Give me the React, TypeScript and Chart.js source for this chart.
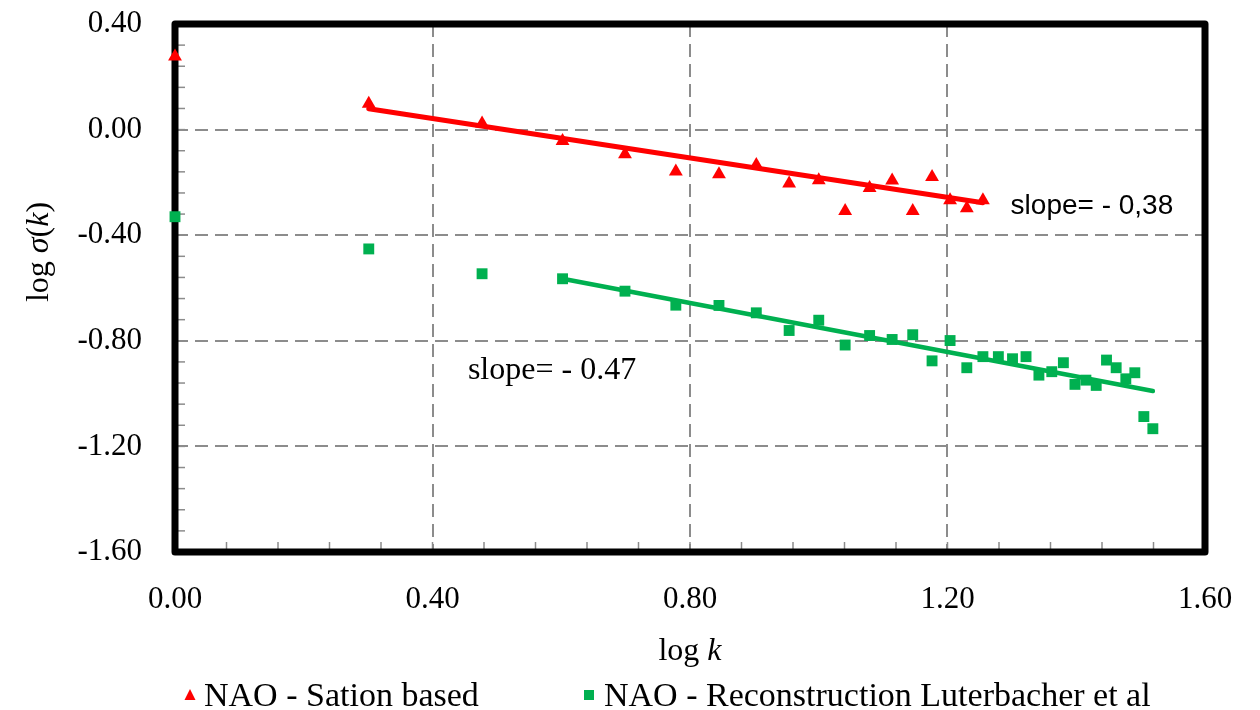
import React, { useEffect, useRef } from "react";
import { Chart, registerables } from "chart.js";

Chart.register(...registerables);

// ---- data (log k, log sigma(k)) ----
const stationX = [0, 0.301, 0.477, 0.602, 0.699, 0.778, 0.845, 0.903, 0.954, 1.0, 1.041, 1.079, 1.114, 1.146, 1.176, 1.204, 1.23, 1.255];
const stationY = [0.277, 0.098, 0.023, -0.043, -0.093, -0.159, -0.169, -0.134, -0.204, -0.192, -0.308, -0.221, -0.193, -0.308, -0.18, -0.268, -0.298, -0.268];

const reconX = [0, 0.301, 0.477, 0.602, 0.699, 0.778, 0.845, 0.903, 0.954, 1.0, 1.041, 1.079, 1.114, 1.146, 1.176, 1.204, 1.23, 1.255, 1.279, 1.301, 1.322, 1.342, 1.362, 1.38, 1.398, 1.415, 1.431, 1.447, 1.462, 1.477, 1.491, 1.505, 1.519];
const reconY = [-0.33, -0.452, -0.546, -0.565, -0.612, -0.665, -0.666, -0.694, -0.761, -0.722, -0.816, -0.78, -0.795, -0.777, -0.876, -0.799, -0.902, -0.86, -0.86, -0.868, -0.86, -0.93, -0.917, -0.883, -0.965, -0.949, -0.969, -0.873, -0.902, -0.944, -0.921, -1.087, -1.133];

const stationFitX = [0.301, 1.255];
const stationFitY = [0.079, -0.277];
const reconFitX = [0.602, 1.519];
const reconFitY = [-0.565, -0.99];

const xRange = [0, 1.6];
const yRange = [-1.6, 0.4];
const majorStep = 0.4;
const minorStep = 0.08;

const seriesLabels = ["NAO - Sation based", "NAO - Reconstruction Luterbacher et al"];
const slopeLabels = ["slope= - 0,38", "slope= - 0.47"];
const slopeLabelPos = [
  [1.298, -0.318],
  [0.455, -0.946],
];

const RED = "#FF0000";
const GREEN = "#00B050";
const SERIF = '"Liberation Serif", "Times New Roman", serif';
const SANS = '"Liberation Sans", Arial, sans-serif';

const toPts = (xs: number[], ys: number[]) => xs.map((x, i) => ({ x, y: ys[i] }));
const fmt = (v: number) => (Math.abs(v) < 1e-9 ? 0 : v).toFixed(2);

type Part = { t: string; i?: boolean };
function drawRich(ctx: CanvasRenderingContext2D, parts: Part[], x: number, y: number, size: number) {
  let total = 0;
  const widths = parts.map((p) => {
    ctx.font = `${p.i ? "italic " : ""}${size}px ${SERIF}`;
    const w = ctx.measureText(p.t).width;
    total += w;
    return w;
  });
  let cx = x - total / 2;
  parts.forEach((p, k) => {
    ctx.font = `${p.i ? "italic " : ""}${size}px ${SERIF}`;
    ctx.fillText(p.t, cx, y);
    cx += widths[k];
  });
}

const framePlugin = {
  id: "frameAndMinor",
  beforeDatasetsDraw(chart: any) {
    const { ctx, chartArea: a, scales } = chart;
    const xs = scales.x;
    const ys = scales.y;
    ctx.save();
    ctx.strokeStyle = "#8c8c8c";
    ctx.lineWidth = 1.5;
    const ny = Math.round((yRange[1] - yRange[0]) / minorStep);
    for (let i = 0; i <= ny; i++) {
      const py = ys.getPixelForValue(yRange[0] + i * minorStep);
      ctx.beginPath();
      ctx.moveTo(a.left, py);
      ctx.lineTo(a.left + 10, py);
      ctx.stroke();
    }
    const nx = Math.round((xRange[1] - xRange[0]) / minorStep);
    for (let i = 0; i <= nx; i++) {
      const px = xs.getPixelForValue(xRange[0] + i * minorStep);
      ctx.beginPath();
      ctx.moveTo(px, a.bottom);
      ctx.lineTo(px, a.bottom - 10);
      ctx.stroke();
    }
    ctx.strokeStyle = "#000";
    ctx.lineWidth = 7;
    ctx.lineJoin = "round";
    ctx.strokeRect(a.left, a.top, a.right - a.left, a.bottom - a.top);
    ctx.restore();
  },
  afterDraw(chart: any) {
    const { ctx, chartArea: a, scales } = chart;
    const xs = scales.x;
    const ys = scales.y;
    ctx.save();
    ctx.fillStyle = "#000";
    ctx.textBaseline = "alphabetic";
    ctx.textAlign = "left";

    // slope annotations
    ctx.font = `28px ${SANS}`;
    ctx.fillText(slopeLabels[0], xs.getPixelForValue(slopeLabelPos[0][0]), ys.getPixelForValue(slopeLabelPos[0][1]));
    ctx.font = `32px ${SERIF}`;
    ctx.fillText(slopeLabels[1], xs.getPixelForValue(slopeLabelPos[1][0]), ys.getPixelForValue(slopeLabelPos[1][1]));

    // x title
    drawRich(ctx, [{ t: "log " }, { t: "k", i: true }], (a.left + a.right) / 2, 660, 32);

    // y title
    ctx.save();
    ctx.translate(48, 252);
    ctx.rotate(-Math.PI / 2);
    drawRich(ctx, [{ t: "log " }, { t: "σ", i: true }, { t: "(" }, { t: "k", i: true }, { t: ")" }], 0, 0, 32);
    ctx.restore();

    // legend
    const ly = 695;
    ctx.fillStyle = RED;
    ctx.beginPath();
    ctx.moveTo(190, ly - 6);
    ctx.lineTo(195.5, ly + 5);
    ctx.lineTo(184.5, ly + 5);
    ctx.closePath();
    ctx.fill();
    ctx.fillStyle = GREEN;
    ctx.fillRect(584, ly - 5, 10, 10);
    ctx.fillStyle = "#000";
    ctx.font = `34px ${SERIF}`;
    ctx.fillText(seriesLabels[0], 204, 706);
    ctx.fillText(seriesLabels[1], 604, 706);
    ctx.restore();
  },
};

export default function App() {
  const ref = useRef<HTMLCanvasElement>(null);
  useEffect(() => {
    const chart = new Chart(ref.current as HTMLCanvasElement, {
      type: "scatter",
      data: {
        datasets: [
          {
            label: seriesLabels[0],
            data: toPts(stationX, stationY),
            pointStyle: "triangle",
            pointRadius: 8,
            backgroundColor: RED,
            borderColor: RED,
            borderWidth: 0,
            clip: false,
          },
          {
            label: seriesLabels[1],
            data: toPts(reconX, reconY),
            pointStyle: "rect",
            pointRadius: 7.7,
            backgroundColor: GREEN,
            borderColor: GREEN,
            borderWidth: 0,
            clip: false,
          },
          {
            label: "fit1",
            data: toPts(stationFitX, stationFitY),
            showLine: true,
            pointRadius: 0,
            borderColor: RED,
            borderWidth: 5,
            borderCapStyle: "round",
          },
          {
            label: "fit2",
            data: toPts(reconFitX, reconFitY),
            showLine: true,
            pointRadius: 0,
            borderColor: GREEN,
            borderWidth: 4.5,
            borderCapStyle: "round",
          },
        ],
      },
      options: {
        responsive: false,
        animation: false,
        layout: { autoPadding: false, padding: { top: 24, right: 55, left: 0, bottom: 0 } },
        plugins: { legend: { display: false }, tooltip: { enabled: false }, title: { display: false } },
        scales: {
          x: {
            type: "linear",
            min: xRange[0],
            max: xRange[1],
            afterFit: (s: any) => {
              s.height = 158;
              s.paddingLeft = 0;
              s.paddingRight = 0;
              s.paddingTop = 0;
              s.paddingBottom = 0;
            },
            ticks: {
              stepSize: majorStep,
              callback: (v: any) => fmt(Number(v)),
              font: { family: SERIF, size: 31 },
              color: "#000",
              padding: 29,
              maxRotation: 0,
              autoSkip: false,
            },
            grid: { color: "#8c8c8c", lineWidth: 2, drawTicks: false },
            border: { display: false, dash: [13, 7] },
          },
          y: {
            type: "linear",
            min: yRange[0],
            max: yRange[1],
            afterFit: (s: any) => {
              s.width = 175;
              s.paddingTop = 0;
              s.paddingBottom = 0;
              s.paddingLeft = 0;
              s.paddingRight = 0;
            },
            ticks: {
              stepSize: majorStep,
              callback: (v: any) => fmt(Number(v)),
              font: { family: SERIF, size: 31 },
              color: "#000",
              padding: 33,
              autoSkip: false,
            },
            grid: { color: "#8c8c8c", lineWidth: 2, drawTicks: false },
            border: { display: false, dash: [13, 7] },
          },
        },
      },
      plugins: [framePlugin],
    } as any);
    return () => chart.destroy();
  }, []);
  return (
    <div style={{ position: "absolute", left: 0, top: 0, width: 1260, height: 710, background: "#fff" }}>
      <canvas ref={ref} width={1260} height={710} style={{ display: "block" }} />
    </div>
  );
}
